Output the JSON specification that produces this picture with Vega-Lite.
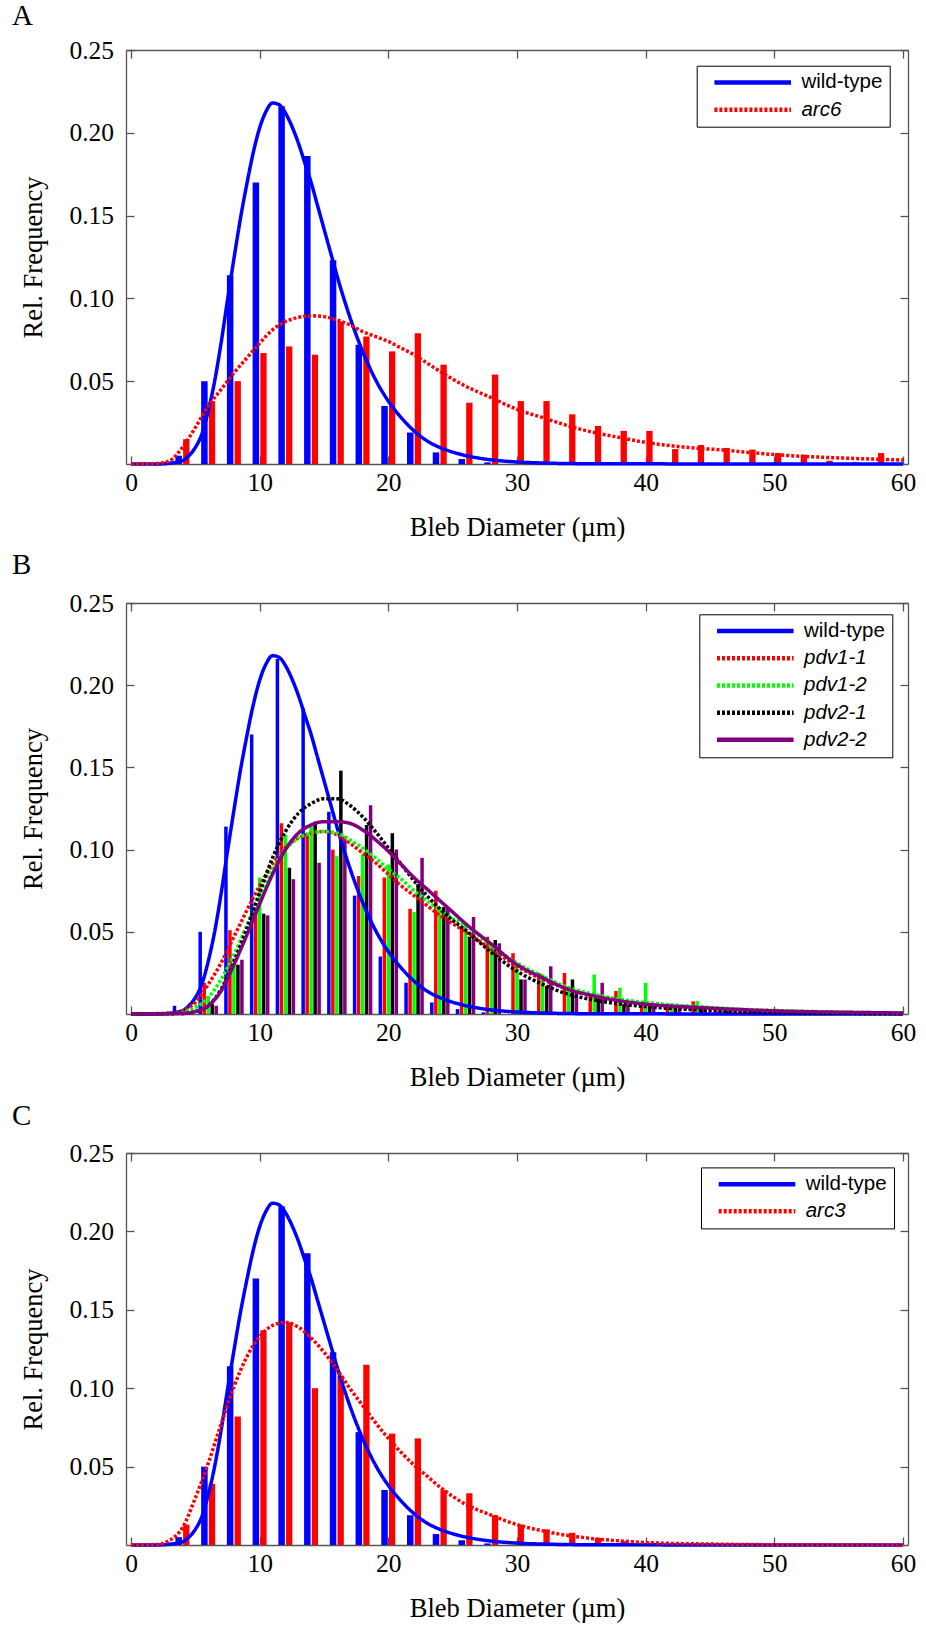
{
  "$schema": "https://vega.github.io/schema/vega-lite/v6.json",
  "background": "white",
  "padding": {"left": 12, "top": 2, "right": 4, "bottom": 4},
  "bounds": "flush",
  "spacing": 139,
  "resolve": {"scale": {"color": "independent", "strokeDash": "independent"}, "legend": {"color": "independent", "strokeDash": "independent"}},
  "config": {
    "font": "Liberation Serif",
    "view": {"stroke": null},
    "axis": {"grid": false, "domainColor": "#555555", "domainWidth": 1.3, "tickColor": "#555555", "tickWidth": 1.3, "tickSize": -8, "labelFont": "Liberation Serif", "labelFontSize": 25.5, "labelColor": "#000000", "titleFont": "Liberation Serif", "titleFontSize": 26.5, "titleFontWeight": "normal", "titleColor": "#000000", "labelFlush": false, "labelOverlap": false},
    "axisX": {"labelPadding": 14.6, "titlePadding": 18},
    "axisY": {"labelPadding": 20.5, "titlePadding": 21},
    "legend": {"labelFont": "Liberation Sans", "labelFontSize": 20.5, "labelColor": "#000000", "symbolType": "stroke", "symbolSize": 5870, "symbolStrokeWidth": 4.5, "strokeColor": "#000000", "fillColor": "#ffffff", "padding": 6.5, "rowPadding": 6.2, "clipHeight": 20.5, "labelOffset": 7.7, "symbolOffset": 8.5, "orient": "none", "direction": "vertical"},
    "title": {"font": "Liberation Serif", "fontSize": 29, "fontWeight": "normal", "color": "#000000", "anchor": "start", "frame": "group", "baseline": "alphabetic"}
  },
  "datasets": {
    "wtBars": [
      {"x": 4, "y": 0.005, "s": "wild-type"}, {"x": 6, "y": 0.050, "s": "wild-type"}, {"x": 8, "y": 0.114, "s": "wild-type"}, {"x": 10, "y": 0.170, "s": "wild-type"}, {"x": 12, "y": 0.216, "s": "wild-type"}, {"x": 14, "y": 0.186, "s": "wild-type"}, {"x": 16, "y": 0.123, "s": "wild-type"}, {"x": 18, "y": 0.072, "s": "wild-type"}, {"x": 20, "y": 0.035, "s": "wild-type"}, {"x": 22, "y": 0.019, "s": "wild-type"}, {"x": 24, "y": 0.007, "s": "wild-type"}, {"x": 26, "y": 0.003, "s": "wild-type"}, {"x": 28, "y": 0.001, "s": "wild-type"}
    ],
    "arc6Bars": [
      {"x": 4, "y": 0.015}, {"x": 6, "y": 0.038}, {"x": 8, "y": 0.050}, {"x": 10, "y": 0.067}, {"x": 12, "y": 0.071}, {"x": 14, "y": 0.066}, {"x": 16, "y": 0.086}, {"x": 18, "y": 0.077}, {"x": 20, "y": 0.068}, {"x": 22, "y": 0.079}, {"x": 24, "y": 0.060}, {"x": 26, "y": 0.037}, {"x": 28, "y": 0.054}, {"x": 30, "y": 0.038}, {"x": 32, "y": 0.038}, {"x": 34, "y": 0.030}, {"x": 36, "y": 0.023}, {"x": 38, "y": 0.020}, {"x": 40, "y": 0.020}, {"x": 42, "y": 0.009}, {"x": 44, "y": 0.0115}, {"x": 46, "y": 0.0097}, {"x": 48, "y": 0.0087}, {"x": 50, "y": 0.0066}, {"x": 52, "y": 0.0056}, {"x": 54, "y": 0.002}, {"x": 56, "y": 0.001}, {"x": 58, "y": 0.0066}
    ],
    "arc3Bars": [
      {"x": 4, "y": 0.013}, {"x": 6, "y": 0.039}, {"x": 8, "y": 0.082}, {"x": 10, "y": 0.137}, {"x": 12, "y": 0.142}, {"x": 14, "y": 0.100}, {"x": 16, "y": 0.108}, {"x": 18, "y": 0.115}, {"x": 20, "y": 0.071}, {"x": 22, "y": 0.068}, {"x": 24, "y": 0.035}, {"x": 26, "y": 0.033}, {"x": 28, "y": 0.019}, {"x": 30, "y": 0.013}, {"x": 32, "y": 0.010}, {"x": 34, "y": 0.0078}, {"x": 36, "y": 0.0045}, {"x": 38, "y": 0.0025}, {"x": 40, "y": 0.0014}, {"x": 42, "y": 0.0008}, {"x": 44, "y": 0.0005}
    ],
    "pdvBars": [
      {"x": 4, "y": 0.002, "s": "pdv1-1"}, {"x": 6, "y": 0.019, "s": "pdv1-1"}, {"x": 8, "y": 0.051, "s": "pdv1-1"}, {"x": 10, "y": 0.065, "s": "pdv1-1"}, {"x": 12, "y": 0.116, "s": "pdv1-1"}, {"x": 14, "y": 0.110, "s": "pdv1-1"}, {"x": 16, "y": 0.100, "s": "pdv1-1"}, {"x": 18, "y": 0.084, "s": "pdv1-1"}, {"x": 20, "y": 0.083, "s": "pdv1-1"}, {"x": 22, "y": 0.064, "s": "pdv1-1"}, {"x": 24, "y": 0.075, "s": "pdv1-1"}, {"x": 26, "y": 0.053, "s": "pdv1-1"}, {"x": 28, "y": 0.047, "s": "pdv1-1"}, {"x": 30, "y": 0.037, "s": "pdv1-1"}, {"x": 32, "y": 0.025, "s": "pdv1-1"}, {"x": 34, "y": 0.025, "s": "pdv1-1"}, {"x": 36, "y": 0.011, "s": "pdv1-1"}, {"x": 38, "y": 0.014, "s": "pdv1-1"}, {"x": 40, "y": 0.007, "s": "pdv1-1"}, {"x": 42, "y": 0.005, "s": "pdv1-1"}, {"x": 44, "y": 0.0077, "s": "pdv1-1"}, {"x": 46, "y": 0.002, "s": "pdv1-1"}, {"x": 48, "y": 0.002, "s": "pdv1-1"}, {"x": 50, "y": 0.001, "s": "pdv1-1"}, {"x": 52, "y": 0.001, "s": "pdv1-1"}, {"x": 54, "y": 0.001, "s": "pdv1-1"}, {"x": 56, "y": 0.0005, "s": "pdv1-1"}, {"x": 58, "y": 0.001, "s": "pdv1-1"},
      {"x": 4, "y": 0.001, "s": "pdv1-2"}, {"x": 6, "y": 0.011, "s": "pdv1-2"}, {"x": 8, "y": 0.031, "s": "pdv1-2"}, {"x": 10, "y": 0.083, "s": "pdv1-2"}, {"x": 12, "y": 0.109, "s": "pdv1-2"}, {"x": 14, "y": 0.114, "s": "pdv1-2"}, {"x": 16, "y": 0.096, "s": "pdv1-2"}, {"x": 18, "y": 0.097, "s": "pdv1-2"}, {"x": 20, "y": 0.091, "s": "pdv1-2"}, {"x": 22, "y": 0.062, "s": "pdv1-2"}, {"x": 24, "y": 0.065, "s": "pdv1-2"}, {"x": 26, "y": 0.055, "s": "pdv1-2"}, {"x": 28, "y": 0.041, "s": "pdv1-2"}, {"x": 30, "y": 0.031, "s": "pdv1-2"}, {"x": 32, "y": 0.024, "s": "pdv1-2"}, {"x": 34, "y": 0.017, "s": "pdv1-2"}, {"x": 36, "y": 0.024, "s": "pdv1-2"}, {"x": 38, "y": 0.016, "s": "pdv1-2"}, {"x": 40, "y": 0.019, "s": "pdv1-2"}, {"x": 42, "y": 0.006, "s": "pdv1-2"}, {"x": 44, "y": 0.008, "s": "pdv1-2"}, {"x": 46, "y": 0.003, "s": "pdv1-2"}, {"x": 48, "y": 0.003, "s": "pdv1-2"}, {"x": 50, "y": 0.001, "s": "pdv1-2"}, {"x": 52, "y": 0.002, "s": "pdv1-2"}, {"x": 54, "y": 0.001, "s": "pdv1-2"}, {"x": 56, "y": 0.0005, "s": "pdv1-2"}, {"x": 58, "y": 0.0005, "s": "pdv1-2"},
      {"x": 4, "y": 0.0005, "s": "pdv2-1"}, {"x": 6, "y": 0.006, "s": "pdv2-1"}, {"x": 8, "y": 0.030, "s": "pdv2-1"}, {"x": 10, "y": 0.061, "s": "pdv2-1"}, {"x": 12, "y": 0.089, "s": "pdv2-1"}, {"x": 14, "y": 0.117, "s": "pdv2-1"}, {"x": 16, "y": 0.148, "s": "pdv2-1"}, {"x": 18, "y": 0.115, "s": "pdv2-1"}, {"x": 20, "y": 0.110, "s": "pdv2-1"}, {"x": 22, "y": 0.079, "s": "pdv2-1"}, {"x": 24, "y": 0.065, "s": "pdv2-1"}, {"x": 26, "y": 0.047, "s": "pdv2-1"}, {"x": 28, "y": 0.045, "s": "pdv2-1"}, {"x": 30, "y": 0.021, "s": "pdv2-1"}, {"x": 32, "y": 0.017, "s": "pdv2-1"}, {"x": 34, "y": 0.021, "s": "pdv2-1"}, {"x": 36, "y": 0.0095, "s": "pdv2-1"}, {"x": 38, "y": 0.006, "s": "pdv2-1"}, {"x": 40, "y": 0.005, "s": "pdv2-1"}, {"x": 42, "y": 0.004, "s": "pdv2-1"}, {"x": 44, "y": 0.003, "s": "pdv2-1"}, {"x": 46, "y": 0.002, "s": "pdv2-1"}, {"x": 48, "y": 0.002, "s": "pdv2-1"}, {"x": 50, "y": 0.001, "s": "pdv2-1"}, {"x": 52, "y": 0.001, "s": "pdv2-1"}, {"x": 54, "y": 0.0005, "s": "pdv2-1"}, {"x": 56, "y": 0.0005, "s": "pdv2-1"}, {"x": 58, "y": 0.0005, "s": "pdv2-1"},
      {"x": 4, "y": 0.0005, "s": "pdv2-2"}, {"x": 6, "y": 0.005, "s": "pdv2-2"}, {"x": 8, "y": 0.033, "s": "pdv2-2"}, {"x": 10, "y": 0.060, "s": "pdv2-2"}, {"x": 12, "y": 0.082, "s": "pdv2-2"}, {"x": 14, "y": 0.092, "s": "pdv2-2"}, {"x": 16, "y": 0.108, "s": "pdv2-2"}, {"x": 18, "y": 0.127, "s": "pdv2-2"}, {"x": 20, "y": 0.100, "s": "pdv2-2"}, {"x": 22, "y": 0.095, "s": "pdv2-2"}, {"x": 24, "y": 0.065, "s": "pdv2-2"}, {"x": 26, "y": 0.059, "s": "pdv2-2"}, {"x": 28, "y": 0.043, "s": "pdv2-2"}, {"x": 30, "y": 0.021, "s": "pdv2-2"}, {"x": 32, "y": 0.029, "s": "pdv2-2"}, {"x": 34, "y": 0.014, "s": "pdv2-2"}, {"x": 36, "y": 0.019, "s": "pdv2-2"}, {"x": 38, "y": 0.006, "s": "pdv2-2"}, {"x": 40, "y": 0.0055, "s": "pdv2-2"}, {"x": 42, "y": 0.0035, "s": "pdv2-2"}, {"x": 44, "y": 0.0035, "s": "pdv2-2"}, {"x": 46, "y": 0.002, "s": "pdv2-2"}, {"x": 48, "y": 0.002, "s": "pdv2-2"}, {"x": 50, "y": 0.001, "s": "pdv2-2"}, {"x": 52, "y": 0.001, "s": "pdv2-2"}, {"x": 54, "y": 0.0005, "s": "pdv2-2"}, {"x": 56, "y": 0.0005, "s": "pdv2-2"}, {"x": 58, "y": 0.0005, "s": "pdv2-2"}
    ],
    "curvesA": [
      {"x": 0, "y": 0, "s": "wild-type"}, {"x": 2, "y": 0, "s": "wild-type"}, {"x": 3, "y": 0.0005, "s": "wild-type"}, {"x": 4, "y": 0.002, "s": "wild-type"}, {"x": 4.5, "y": 0.005, "s": "wild-type"}, {"x": 5, "y": 0.010, "s": "wild-type"}, {"x": 5.5, "y": 0.018, "s": "wild-type"}, {"x": 6, "y": 0.032, "s": "wild-type"}, {"x": 6.5, "y": 0.050, "s": "wild-type"}, {"x": 7, "y": 0.073, "s": "wild-type"}, {"x": 7.5, "y": 0.099, "s": "wild-type"}, {"x": 8, "y": 0.124, "s": "wild-type"}, {"x": 8.5, "y": 0.148, "s": "wild-type"}, {"x": 9, "y": 0.169, "s": "wild-type"}, {"x": 9.5, "y": 0.188, "s": "wild-type"}, {"x": 10, "y": 0.203, "s": "wild-type"}, {"x": 10.5, "y": 0.213, "s": "wild-type"}, {"x": 11, "y": 0.218, "s": "wild-type"}, {"x": 11.5, "y": 0.217, "s": "wild-type"}, {"x": 12, "y": 0.212, "s": "wild-type"}, {"x": 12.5, "y": 0.204, "s": "wild-type"}, {"x": 13, "y": 0.194, "s": "wild-type"}, {"x": 13.5, "y": 0.182, "s": "wild-type"}, {"x": 14, "y": 0.170, "s": "wild-type"}, {"x": 14.5, "y": 0.156, "s": "wild-type"}, {"x": 15, "y": 0.142, "s": "wild-type"}, {"x": 15.5, "y": 0.128, "s": "wild-type"}, {"x": 16, "y": 0.114, "s": "wild-type"}, {"x": 17, "y": 0.089, "s": "wild-type"}, {"x": 18, "y": 0.068, "s": "wild-type"}, {"x": 19, "y": 0.051, "s": "wild-type"}, {"x": 20, "y": 0.038, "s": "wild-type"}, {"x": 21, "y": 0.028, "s": "wild-type"}, {"x": 22, "y": 0.020, "s": "wild-type"}, {"x": 23, "y": 0.014, "s": "wild-type"}, {"x": 24, "y": 0.010, "s": "wild-type"}, {"x": 25, "y": 0.0072, "s": "wild-type"}, {"x": 26, "y": 0.0051, "s": "wild-type"}, {"x": 27, "y": 0.0036, "s": "wild-type"}, {"x": 28, "y": 0.0025, "s": "wild-type"}, {"x": 30, "y": 0.0012, "s": "wild-type"}, {"x": 32, "y": 0.0006, "s": "wild-type"}, {"x": 35, "y": 0.0002, "s": "wild-type"}, {"x": 40, "y": 0.0001, "s": "wild-type"}, {"x": 50, "y": 0, "s": "wild-type"}, {"x": 60, "y": 0, "s": "wild-type"},
      {"x": 0, "y": 0, "s": "arc6"}, {"x": 2, "y": 0.0003, "s": "arc6"}, {"x": 3, "y": 0.002, "s": "arc6"}, {"x": 4, "y": 0.010, "s": "arc6"}, {"x": 5, "y": 0.022, "s": "arc6"}, {"x": 6, "y": 0.035, "s": "arc6"}, {"x": 7, "y": 0.045, "s": "arc6"}, {"x": 8, "y": 0.055, "s": "arc6"}, {"x": 9, "y": 0.064, "s": "arc6"}, {"x": 10, "y": 0.073, "s": "arc6"}, {"x": 11, "y": 0.081, "s": "arc6"}, {"x": 12, "y": 0.086, "s": "arc6"}, {"x": 13, "y": 0.0885, "s": "arc6"}, {"x": 14, "y": 0.0895, "s": "arc6"}, {"x": 15, "y": 0.089, "s": "arc6"}, {"x": 16, "y": 0.087, "s": "arc6"}, {"x": 17, "y": 0.084, "s": "arc6"}, {"x": 18, "y": 0.080, "s": "arc6"}, {"x": 19, "y": 0.077, "s": "arc6"}, {"x": 20, "y": 0.074, "s": "arc6"}, {"x": 21, "y": 0.070, "s": "arc6"}, {"x": 22, "y": 0.066, "s": "arc6"}, {"x": 23, "y": 0.061, "s": "arc6"}, {"x": 24, "y": 0.056, "s": "arc6"}, {"x": 26, "y": 0.047, "s": "arc6"}, {"x": 28, "y": 0.040, "s": "arc6"}, {"x": 30, "y": 0.033, "s": "arc6"}, {"x": 32, "y": 0.028, "s": "arc6"}, {"x": 34, "y": 0.023, "s": "arc6"}, {"x": 36, "y": 0.019, "s": "arc6"}, {"x": 38, "y": 0.016, "s": "arc6"}, {"x": 40, "y": 0.013, "s": "arc6"}, {"x": 42, "y": 0.011, "s": "arc6"}, {"x": 44, "y": 0.0095, "s": "arc6"}, {"x": 46, "y": 0.0085, "s": "arc6"}, {"x": 48, "y": 0.007, "s": "arc6"}, {"x": 50, "y": 0.0057, "s": "arc6"}, {"x": 52, "y": 0.0047, "s": "arc6"}, {"x": 54, "y": 0.004, "s": "arc6"}, {"x": 56, "y": 0.0034, "s": "arc6"}, {"x": 58, "y": 0.0029, "s": "arc6"}, {"x": 60, "y": 0.0024, "s": "arc6"}
    ],
    "curvesB": [
      {"x": 0, "y": 0, "s": "wild-type"}, {"x": 2, "y": 0, "s": "wild-type"}, {"x": 3, "y": 0.0005, "s": "wild-type"}, {"x": 4, "y": 0.002, "s": "wild-type"}, {"x": 4.5, "y": 0.005, "s": "wild-type"}, {"x": 5, "y": 0.010, "s": "wild-type"}, {"x": 5.5, "y": 0.018, "s": "wild-type"}, {"x": 6, "y": 0.032, "s": "wild-type"}, {"x": 6.5, "y": 0.050, "s": "wild-type"}, {"x": 7, "y": 0.073, "s": "wild-type"}, {"x": 7.5, "y": 0.099, "s": "wild-type"}, {"x": 8, "y": 0.124, "s": "wild-type"}, {"x": 8.5, "y": 0.148, "s": "wild-type"}, {"x": 9, "y": 0.169, "s": "wild-type"}, {"x": 9.5, "y": 0.188, "s": "wild-type"}, {"x": 10, "y": 0.203, "s": "wild-type"}, {"x": 10.5, "y": 0.213, "s": "wild-type"}, {"x": 11, "y": 0.218, "s": "wild-type"}, {"x": 11.5, "y": 0.217, "s": "wild-type"}, {"x": 12, "y": 0.212, "s": "wild-type"}, {"x": 12.5, "y": 0.204, "s": "wild-type"}, {"x": 13, "y": 0.194, "s": "wild-type"}, {"x": 13.5, "y": 0.182, "s": "wild-type"}, {"x": 14, "y": 0.170, "s": "wild-type"}, {"x": 14.5, "y": 0.156, "s": "wild-type"}, {"x": 15, "y": 0.142, "s": "wild-type"}, {"x": 15.5, "y": 0.128, "s": "wild-type"}, {"x": 16, "y": 0.114, "s": "wild-type"}, {"x": 17, "y": 0.089, "s": "wild-type"}, {"x": 18, "y": 0.068, "s": "wild-type"}, {"x": 19, "y": 0.051, "s": "wild-type"}, {"x": 20, "y": 0.038, "s": "wild-type"}, {"x": 21, "y": 0.028, "s": "wild-type"}, {"x": 22, "y": 0.020, "s": "wild-type"}, {"x": 23, "y": 0.014, "s": "wild-type"}, {"x": 24, "y": 0.010, "s": "wild-type"}, {"x": 25, "y": 0.0072, "s": "wild-type"}, {"x": 26, "y": 0.0051, "s": "wild-type"}, {"x": 27, "y": 0.0036, "s": "wild-type"}, {"x": 28, "y": 0.0025, "s": "wild-type"}, {"x": 30, "y": 0.0012, "s": "wild-type"}, {"x": 32, "y": 0.0006, "s": "wild-type"}, {"x": 35, "y": 0.0002, "s": "wild-type"}, {"x": 40, "y": 0.0001, "s": "wild-type"}, {"x": 50, "y": 0, "s": "wild-type"}, {"x": 60, "y": 0, "s": "wild-type"},
      {"x": 0, "y": 0, "s": "pdv1-1"}, {"x": 3, "y": 0.0005, "s": "pdv1-1"}, {"x": 4, "y": 0.002, "s": "pdv1-1"}, {"x": 5, "y": 0.007, "s": "pdv1-1"}, {"x": 6, "y": 0.018, "s": "pdv1-1"}, {"x": 7, "y": 0.031, "s": "pdv1-1"}, {"x": 8, "y": 0.047, "s": "pdv1-1"}, {"x": 9, "y": 0.063, "s": "pdv1-1"}, {"x": 10, "y": 0.078, "s": "pdv1-1"}, {"x": 11, "y": 0.091, "s": "pdv1-1"}, {"x": 12, "y": 0.101, "s": "pdv1-1"}, {"x": 13, "y": 0.107, "s": "pdv1-1"}, {"x": 14, "y": 0.110, "s": "pdv1-1"}, {"x": 15, "y": 0.111, "s": "pdv1-1"}, {"x": 16, "y": 0.109, "s": "pdv1-1"}, {"x": 17, "y": 0.104, "s": "pdv1-1"}, {"x": 18, "y": 0.098, "s": "pdv1-1"}, {"x": 19, "y": 0.092, "s": "pdv1-1"}, {"x": 20, "y": 0.085, "s": "pdv1-1"}, {"x": 21, "y": 0.078, "s": "pdv1-1"}, {"x": 22, "y": 0.072, "s": "pdv1-1"}, {"x": 23, "y": 0.066, "s": "pdv1-1"}, {"x": 24, "y": 0.060, "s": "pdv1-1"}, {"x": 25, "y": 0.055, "s": "pdv1-1"}, {"x": 26, "y": 0.050, "s": "pdv1-1"}, {"x": 28, "y": 0.0395, "s": "pdv1-1"}, {"x": 30, "y": 0.029, "s": "pdv1-1"}, {"x": 32, "y": 0.021, "s": "pdv1-1"}, {"x": 34, "y": 0.015, "s": "pdv1-1"}, {"x": 36, "y": 0.0105, "s": "pdv1-1"}, {"x": 38, "y": 0.0075, "s": "pdv1-1"}, {"x": 40, "y": 0.0055, "s": "pdv1-1"}, {"x": 44, "y": 0.003, "s": "pdv1-1"}, {"x": 48, "y": 0.0017, "s": "pdv1-1"}, {"x": 52, "y": 0.001, "s": "pdv1-1"}, {"x": 56, "y": 0.0006, "s": "pdv1-1"}, {"x": 60, "y": 0.0004, "s": "pdv1-1"},
      {"x": 0, "y": 0, "s": "pdv1-2"}, {"x": 3, "y": 0.0002, "s": "pdv1-2"}, {"x": 4, "y": 0.001, "s": "pdv1-2"}, {"x": 5, "y": 0.004, "s": "pdv1-2"}, {"x": 6, "y": 0.010, "s": "pdv1-2"}, {"x": 7, "y": 0.021, "s": "pdv1-2"}, {"x": 8, "y": 0.036, "s": "pdv1-2"}, {"x": 9, "y": 0.054, "s": "pdv1-2"}, {"x": 10, "y": 0.072, "s": "pdv1-2"}, {"x": 11, "y": 0.088, "s": "pdv1-2"}, {"x": 12, "y": 0.100, "s": "pdv1-2"}, {"x": 13, "y": 0.107, "s": "pdv1-2"}, {"x": 14, "y": 0.110, "s": "pdv1-2"}, {"x": 15, "y": 0.111, "s": "pdv1-2"}, {"x": 16, "y": 0.110, "s": "pdv1-2"}, {"x": 17, "y": 0.106, "s": "pdv1-2"}, {"x": 18, "y": 0.101, "s": "pdv1-2"}, {"x": 19, "y": 0.095, "s": "pdv1-2"}, {"x": 20, "y": 0.088, "s": "pdv1-2"}, {"x": 21, "y": 0.082, "s": "pdv1-2"}, {"x": 22, "y": 0.075, "s": "pdv1-2"}, {"x": 23, "y": 0.069, "s": "pdv1-2"}, {"x": 24, "y": 0.063, "s": "pdv1-2"}, {"x": 25, "y": 0.058, "s": "pdv1-2"}, {"x": 26, "y": 0.054, "s": "pdv1-2"}, {"x": 28, "y": 0.0415, "s": "pdv1-2"}, {"x": 30, "y": 0.031, "s": "pdv1-2"}, {"x": 32, "y": 0.023, "s": "pdv1-2"}, {"x": 34, "y": 0.016, "s": "pdv1-2"}, {"x": 36, "y": 0.012, "s": "pdv1-2"}, {"x": 38, "y": 0.009, "s": "pdv1-2"}, {"x": 40, "y": 0.007, "s": "pdv1-2"}, {"x": 44, "y": 0.0045, "s": "pdv1-2"}, {"x": 48, "y": 0.0027, "s": "pdv1-2"}, {"x": 52, "y": 0.0017, "s": "pdv1-2"}, {"x": 56, "y": 0.001, "s": "pdv1-2"}, {"x": 60, "y": 0.0007, "s": "pdv1-2"},
      {"x": 0, "y": 0, "s": "pdv2-1"}, {"x": 4, "y": 0.0003, "s": "pdv2-1"}, {"x": 5, "y": 0.0015, "s": "pdv2-1"}, {"x": 6, "y": 0.005, "s": "pdv2-1"}, {"x": 7, "y": 0.015, "s": "pdv2-1"}, {"x": 8, "y": 0.032, "s": "pdv2-1"}, {"x": 9, "y": 0.052, "s": "pdv2-1"}, {"x": 10, "y": 0.074, "s": "pdv2-1"}, {"x": 11, "y": 0.095, "s": "pdv2-1"}, {"x": 12, "y": 0.111, "s": "pdv2-1"}, {"x": 13, "y": 0.122, "s": "pdv2-1"}, {"x": 14, "y": 0.128, "s": "pdv2-1"}, {"x": 15, "y": 0.131, "s": "pdv2-1"}, {"x": 16, "y": 0.131, "s": "pdv2-1"}, {"x": 17, "y": 0.127, "s": "pdv2-1"}, {"x": 18, "y": 0.120, "s": "pdv2-1"}, {"x": 19, "y": 0.111, "s": "pdv2-1"}, {"x": 20, "y": 0.101, "s": "pdv2-1"}, {"x": 21, "y": 0.091, "s": "pdv2-1"}, {"x": 22, "y": 0.081, "s": "pdv2-1"}, {"x": 23, "y": 0.072, "s": "pdv2-1"}, {"x": 24, "y": 0.064, "s": "pdv2-1"}, {"x": 25, "y": 0.057, "s": "pdv2-1"}, {"x": 26, "y": 0.051, "s": "pdv2-1"}, {"x": 28, "y": 0.0375, "s": "pdv2-1"}, {"x": 30, "y": 0.026, "s": "pdv2-1"}, {"x": 32, "y": 0.018, "s": "pdv2-1"}, {"x": 34, "y": 0.012, "s": "pdv2-1"}, {"x": 36, "y": 0.0085, "s": "pdv2-1"}, {"x": 38, "y": 0.006, "s": "pdv2-1"}, {"x": 40, "y": 0.0045, "s": "pdv2-1"}, {"x": 44, "y": 0.0025, "s": "pdv2-1"}, {"x": 48, "y": 0.0013, "s": "pdv2-1"}, {"x": 52, "y": 0.0007, "s": "pdv2-1"}, {"x": 56, "y": 0.0004, "s": "pdv2-1"}, {"x": 60, "y": 0.0002, "s": "pdv2-1"},
      {"x": 0, "y": 0, "s": "pdv2-2"}, {"x": 4, "y": 0.0003, "s": "pdv2-2"}, {"x": 5, "y": 0.0015, "s": "pdv2-2"}, {"x": 6, "y": 0.005, "s": "pdv2-2"}, {"x": 7, "y": 0.014, "s": "pdv2-2"}, {"x": 8, "y": 0.030, "s": "pdv2-2"}, {"x": 9, "y": 0.048, "s": "pdv2-2"}, {"x": 10, "y": 0.067, "s": "pdv2-2"}, {"x": 11, "y": 0.085, "s": "pdv2-2"}, {"x": 12, "y": 0.100, "s": "pdv2-2"}, {"x": 13, "y": 0.110, "s": "pdv2-2"}, {"x": 14, "y": 0.115, "s": "pdv2-2"}, {"x": 15, "y": 0.117, "s": "pdv2-2"}, {"x": 16, "y": 0.117, "s": "pdv2-2"}, {"x": 17, "y": 0.116, "s": "pdv2-2"}, {"x": 18, "y": 0.112, "s": "pdv2-2"}, {"x": 19, "y": 0.106, "s": "pdv2-2"}, {"x": 20, "y": 0.099, "s": "pdv2-2"}, {"x": 21, "y": 0.091, "s": "pdv2-2"}, {"x": 22, "y": 0.083, "s": "pdv2-2"}, {"x": 23, "y": 0.076, "s": "pdv2-2"}, {"x": 24, "y": 0.069, "s": "pdv2-2"}, {"x": 25, "y": 0.062, "s": "pdv2-2"}, {"x": 26, "y": 0.055, "s": "pdv2-2"}, {"x": 28, "y": 0.0425, "s": "pdv2-2"}, {"x": 30, "y": 0.030, "s": "pdv2-2"}, {"x": 32, "y": 0.022, "s": "pdv2-2"}, {"x": 34, "y": 0.015, "s": "pdv2-2"}, {"x": 36, "y": 0.011, "s": "pdv2-2"}, {"x": 38, "y": 0.008, "s": "pdv2-2"}, {"x": 40, "y": 0.006, "s": "pdv2-2"}, {"x": 44, "y": 0.004, "s": "pdv2-2"}, {"x": 48, "y": 0.0025, "s": "pdv2-2"}, {"x": 52, "y": 0.0015, "s": "pdv2-2"}, {"x": 56, "y": 0.001, "s": "pdv2-2"}, {"x": 60, "y": 0.0006, "s": "pdv2-2"}
    ],
    "curvesC": [
      {"x": 0, "y": 0, "s": "wild-type"}, {"x": 2, "y": 0, "s": "wild-type"}, {"x": 3, "y": 0.0005, "s": "wild-type"}, {"x": 4, "y": 0.002, "s": "wild-type"}, {"x": 4.5, "y": 0.005, "s": "wild-type"}, {"x": 5, "y": 0.010, "s": "wild-type"}, {"x": 5.5, "y": 0.018, "s": "wild-type"}, {"x": 6, "y": 0.032, "s": "wild-type"}, {"x": 6.5, "y": 0.050, "s": "wild-type"}, {"x": 7, "y": 0.073, "s": "wild-type"}, {"x": 7.5, "y": 0.099, "s": "wild-type"}, {"x": 8, "y": 0.124, "s": "wild-type"}, {"x": 8.5, "y": 0.148, "s": "wild-type"}, {"x": 9, "y": 0.169, "s": "wild-type"}, {"x": 9.5, "y": 0.188, "s": "wild-type"}, {"x": 10, "y": 0.203, "s": "wild-type"}, {"x": 10.5, "y": 0.213, "s": "wild-type"}, {"x": 11, "y": 0.218, "s": "wild-type"}, {"x": 11.5, "y": 0.217, "s": "wild-type"}, {"x": 12, "y": 0.212, "s": "wild-type"}, {"x": 12.5, "y": 0.204, "s": "wild-type"}, {"x": 13, "y": 0.194, "s": "wild-type"}, {"x": 13.5, "y": 0.182, "s": "wild-type"}, {"x": 14, "y": 0.170, "s": "wild-type"}, {"x": 14.5, "y": 0.156, "s": "wild-type"}, {"x": 15, "y": 0.142, "s": "wild-type"}, {"x": 15.5, "y": 0.128, "s": "wild-type"}, {"x": 16, "y": 0.114, "s": "wild-type"}, {"x": 17, "y": 0.089, "s": "wild-type"}, {"x": 18, "y": 0.068, "s": "wild-type"}, {"x": 19, "y": 0.051, "s": "wild-type"}, {"x": 20, "y": 0.038, "s": "wild-type"}, {"x": 21, "y": 0.028, "s": "wild-type"}, {"x": 22, "y": 0.020, "s": "wild-type"}, {"x": 23, "y": 0.014, "s": "wild-type"}, {"x": 24, "y": 0.010, "s": "wild-type"}, {"x": 25, "y": 0.0072, "s": "wild-type"}, {"x": 26, "y": 0.0051, "s": "wild-type"}, {"x": 27, "y": 0.0036, "s": "wild-type"}, {"x": 28, "y": 0.0025, "s": "wild-type"}, {"x": 30, "y": 0.0012, "s": "wild-type"}, {"x": 32, "y": 0.0006, "s": "wild-type"}, {"x": 35, "y": 0.0002, "s": "wild-type"}, {"x": 40, "y": 0.0001, "s": "wild-type"}, {"x": 50, "y": 0, "s": "wild-type"}, {"x": 60, "y": 0, "s": "wild-type"},
      {"x": 0, "y": 0, "s": "arc3"}, {"x": 2, "y": 0.0003, "s": "arc3"}, {"x": 3, "y": 0.003, "s": "arc3"}, {"x": 4, "y": 0.011, "s": "arc3"}, {"x": 5, "y": 0.030, "s": "arc3"}, {"x": 6, "y": 0.052, "s": "arc3"}, {"x": 7, "y": 0.077, "s": "arc3"}, {"x": 8, "y": 0.101, "s": "arc3"}, {"x": 9, "y": 0.120, "s": "arc3"}, {"x": 10, "y": 0.133, "s": "arc3"}, {"x": 11, "y": 0.140, "s": "arc3"}, {"x": 12, "y": 0.142, "s": "arc3"}, {"x": 13, "y": 0.139, "s": "arc3"}, {"x": 14, "y": 0.132, "s": "arc3"}, {"x": 15, "y": 0.123, "s": "arc3"}, {"x": 16, "y": 0.112, "s": "arc3"}, {"x": 17, "y": 0.100, "s": "arc3"}, {"x": 18, "y": 0.089, "s": "arc3"}, {"x": 19, "y": 0.078, "s": "arc3"}, {"x": 20, "y": 0.068, "s": "arc3"}, {"x": 21, "y": 0.059, "s": "arc3"}, {"x": 22, "y": 0.051, "s": "arc3"}, {"x": 23, "y": 0.044, "s": "arc3"}, {"x": 24, "y": 0.037, "s": "arc3"}, {"x": 25, "y": 0.031, "s": "arc3"}, {"x": 26, "y": 0.026, "s": "arc3"}, {"x": 28, "y": 0.019, "s": "arc3"}, {"x": 30, "y": 0.013, "s": "arc3"}, {"x": 32, "y": 0.009, "s": "arc3"}, {"x": 34, "y": 0.006, "s": "arc3"}, {"x": 36, "y": 0.004, "s": "arc3"}, {"x": 38, "y": 0.0026, "s": "arc3"}, {"x": 40, "y": 0.0016, "s": "arc3"}, {"x": 45, "y": 0.0006, "s": "arc3"}, {"x": 50, "y": 0.0002, "s": "arc3"}, {"x": 60, "y": 0, "s": "arc3"}
    ]
  },
  "vconcat": [
    {
      "width": 782, "height": 414,
      "title": {"text": "A", "dx": -114, "offset": 7},
      "resolve": {"axis": {"x": "independent", "y": "independent"}},
      "layer": [
        {"data": {"name": "wtBars"}, "mark": {"type": "bar", "color": "#0000ff", "width": 6.5, "xOffset": -3.8},
         "encoding": {
           "x": {"field": "x", "type": "quantitative", "scale": {"domain": [0, 60], "nice": false, "zero": false}, "axis": {"orient": "top", "labels": false, "title": null, "values": [0, 10, 20, 30, 40, 50, 60]}},
           "y": {"field": "y", "type": "quantitative", "scale": {"domain": [0, 0.25], "nice": false}, "axis": {"orient": "right", "labels": false, "title": null, "values": [0.05, 0.1, 0.15, 0.2, 0.25]}}}},
        {"data": {"name": "arc6Bars"}, "mark": {"type": "bar", "color": "#ff0000", "width": 6.3, "xOffset": 3.8},
         "encoding": {
           "x": {"field": "x", "type": "quantitative", "scale": {"domain": [0, 60], "nice": false, "zero": false}, "axis": null},
           "y": {"field": "y", "type": "quantitative", "scale": {"domain": [0, 0.25], "nice": false}, "axis": null}}},
        {"data": {"name": "curvesA"}, "mark": {"type": "line", "strokeWidth": 3.5, "interpolate": "monotone"},
         "encoding": {
           "x": {"field": "x", "type": "quantitative", "scale": {"domain": [0, 60], "nice": false, "zero": false}, "axis": {"values": [0, 10, 20, 30, 40, 50, 60], "format": "d", "title": "Bleb Diameter (µm)", "labelFont": "Liberation Serif"}},
           "y": {"field": "y", "type": "quantitative", "scale": {"domain": [0, 0.25], "nice": false}, "axis": {"values": [0.05, 0.1, 0.15, 0.2, 0.25], "format": ".2f", "title": "Rel. Frequency", "labelFont": "Liberation Serif"}},
           "color": {"field": "s", "type": "nominal", "scale": {"domain": ["wild-type", "arc6"], "range": ["#0000ff", "#ff0000"]},
             "legend": {"title": null, "legendX": 570.7, "legendY": 15.7, "encoding": {"labels": {"fontStyle": {"condition": {"test": "datum.value == 'wild-type'", "value": "normal"}, "value": "italic"}}}}},
           "strokeDash": {"field": "s", "type": "nominal", "scale": {"domain": ["wild-type", "arc6"], "range": [[1, 0], [3, 2]]},
             "legend": {"title": null, "legendX": 570.7, "legendY": 15.7, "encoding": {"labels": {"fontStyle": {"condition": {"test": "datum.value == 'wild-type'", "value": "normal"}, "value": "italic"}}}}}}}
      ]
    },
    {
      "width": 782, "height": 411,
      "title": {"text": "B", "dx": -114, "offset": 10.7},
      "resolve": {"axis": {"x": "independent", "y": "independent"}},
      "layer": [
        {"data": {"name": "wtBars"}, "mark": {"type": "bar", "color": "#0000ff", "width": 3.5, "xOffset": -8},
         "encoding": {
           "x": {"field": "x", "type": "quantitative", "scale": {"domain": [0, 60], "nice": false, "zero": false}, "axis": {"orient": "top", "labels": false, "title": null, "values": [0, 10, 20, 30, 40, 50, 60]}},
           "y": {"field": "y", "type": "quantitative", "scale": {"domain": [0, 0.25], "nice": false}, "axis": {"orient": "right", "labels": false, "title": null, "values": [0.05, 0.1, 0.15, 0.2, 0.25]}}}},
        {"data": {"name": "pdvBars"}, "transform": [{"filter": "datum.s == 'pdv1-1'"}], "mark": {"type": "bar", "color": "#ff0000", "width": 3.5, "xOffset": -4},
         "encoding": {
           "x": {"field": "x", "type": "quantitative", "scale": {"domain": [0, 60], "nice": false, "zero": false}, "axis": null},
           "y": {"field": "y", "type": "quantitative", "scale": {"domain": [0, 0.25], "nice": false}, "axis": null}}},
        {"data": {"name": "pdvBars"}, "transform": [{"filter": "datum.s == 'pdv1-2'"}], "mark": {"type": "bar", "color": "#00ff00", "width": 3.5, "xOffset": 0},
         "encoding": {
           "x": {"field": "x", "type": "quantitative", "scale": {"domain": [0, 60], "nice": false, "zero": false}, "axis": null},
           "y": {"field": "y", "type": "quantitative", "scale": {"domain": [0, 0.25], "nice": false}, "axis": null}}},
        {"data": {"name": "pdvBars"}, "transform": [{"filter": "datum.s == 'pdv2-1'"}], "mark": {"type": "bar", "color": "#000000", "width": 3.5, "xOffset": 4},
         "encoding": {
           "x": {"field": "x", "type": "quantitative", "scale": {"domain": [0, 60], "nice": false, "zero": false}, "axis": null},
           "y": {"field": "y", "type": "quantitative", "scale": {"domain": [0, 0.25], "nice": false}, "axis": null}}},
        {"data": {"name": "pdvBars"}, "transform": [{"filter": "datum.s == 'pdv2-2'"}], "mark": {"type": "bar", "color": "#800080", "width": 3.5, "xOffset": 8},
         "encoding": {
           "x": {"field": "x", "type": "quantitative", "scale": {"domain": [0, 60], "nice": false, "zero": false}, "axis": null},
           "y": {"field": "y", "type": "quantitative", "scale": {"domain": [0, 0.25], "nice": false}, "axis": null}}},
        {"data": {"name": "curvesB"}, "mark": {"type": "line", "strokeWidth": 3.5, "interpolate": "monotone"},
         "encoding": {
           "x": {"field": "x", "type": "quantitative", "scale": {"domain": [0, 60], "nice": false, "zero": false}, "axis": {"values": [0, 10, 20, 30, 40, 50, 60], "format": "d", "title": "Bleb Diameter (µm)", "labelFont": "Liberation Serif"}},
           "y": {"field": "y", "type": "quantitative", "scale": {"domain": [0, 0.25], "nice": false}, "axis": {"values": [0.05, 0.1, 0.15, 0.2, 0.25], "format": ".2f", "title": "Rel. Frequency", "labelFont": "Liberation Serif"}},
           "color": {"field": "s", "type": "nominal", "scale": {"domain": ["wild-type", "pdv1-1", "pdv1-2", "pdv2-1", "pdv2-2"], "range": ["#0000ff", "#ff0000", "#00ff00", "#000000", "#800080"]},
             "legend": {"title": null, "legendX": 573.3, "legendY": 11.3, "encoding": {"labels": {"fontStyle": {"condition": {"test": "datum.value == 'wild-type'", "value": "normal"}, "value": "italic"}}}}},
           "strokeDash": {"field": "s", "type": "nominal", "scale": {"domain": ["wild-type", "pdv1-1", "pdv1-2", "pdv2-1", "pdv2-2"], "range": [[1, 0], [3, 2], [3, 2], [3, 2], [1, 0]]},
             "legend": {"title": null, "legendX": 573.3, "legendY": 11.3, "encoding": {"labels": {"fontStyle": {"condition": {"test": "datum.value == 'wild-type'", "value": "normal"}, "value": "italic"}}}}}}}
      ]
    },
    {
      "width": 782, "height": 392,
      "title": {"text": "C", "dx": -114, "offset": 10.3},
      "resolve": {"axis": {"x": "independent", "y": "independent"}},
      "layer": [
        {"data": {"name": "wtBars"}, "mark": {"type": "bar", "color": "#0000ff", "width": 6.5, "xOffset": -3.8},
         "encoding": {
           "x": {"field": "x", "type": "quantitative", "scale": {"domain": [0, 60], "nice": false, "zero": false}, "axis": {"orient": "top", "labels": false, "title": null, "values": [0, 10, 20, 30, 40, 50, 60]}},
           "y": {"field": "y", "type": "quantitative", "scale": {"domain": [0, 0.25], "nice": false}, "axis": {"orient": "right", "labels": false, "title": null, "values": [0.05, 0.1, 0.15, 0.2, 0.25]}}}},
        {"data": {"name": "arc3Bars"}, "mark": {"type": "bar", "color": "#ff0000", "width": 6.3, "xOffset": 3.8},
         "encoding": {
           "x": {"field": "x", "type": "quantitative", "scale": {"domain": [0, 60], "nice": false, "zero": false}, "axis": null},
           "y": {"field": "y", "type": "quantitative", "scale": {"domain": [0, 0.25], "nice": false}, "axis": null}}},
        {"data": {"name": "curvesC"}, "mark": {"type": "line", "strokeWidth": 3.5, "interpolate": "monotone"},
         "encoding": {
           "x": {"field": "x", "type": "quantitative", "scale": {"domain": [0, 60], "nice": false, "zero": false}, "axis": {"values": [0, 10, 20, 30, 40, 50, 60], "format": "d", "title": "Bleb Diameter (µm)", "labelFont": "Liberation Serif"}},
           "y": {"field": "y", "type": "quantitative", "scale": {"domain": [0, 0.25], "nice": false}, "axis": {"values": [0.05, 0.1, 0.15, 0.2, 0.25], "format": ".2f", "title": "Rel. Frequency", "labelFont": "Liberation Serif"}},
           "color": {"field": "s", "type": "nominal", "scale": {"domain": ["wild-type", "arc3"], "range": ["#0000ff", "#ff0000"]},
             "legend": {"title": null, "legendX": 575, "legendY": 14.4, "encoding": {"labels": {"fontStyle": {"condition": {"test": "datum.value == 'wild-type'", "value": "normal"}, "value": "italic"}}}}},
           "strokeDash": {"field": "s", "type": "nominal", "scale": {"domain": ["wild-type", "arc3"], "range": [[1, 0], [3, 2]]},
             "legend": {"title": null, "legendX": 575, "legendY": 14.4, "encoding": {"labels": {"fontStyle": {"condition": {"test": "datum.value == 'wild-type'", "value": "normal"}, "value": "italic"}}}}}}}
      ]
    }
  ]
}
